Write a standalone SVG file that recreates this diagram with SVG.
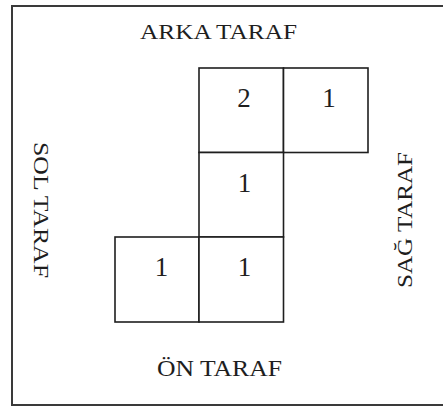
<svg xmlns="http://www.w3.org/2000/svg" width="443" height="408" viewBox="0 0 443 408">
  <style>
    .frame { fill: none; stroke: #3a3a3a; stroke-width: 2; }
    .cell rect { fill: #ffffff; stroke: #1e1e1e; stroke-width: 1.6; }
    .cell text { font-family: "Liberation Serif", "Times New Roman", serif; font-size: 27px; fill: #1e1e1e; text-anchor: middle; }
    .side { font-family: "Liberation Serif", "Times New Roman", serif; fill: #1e1e1e; text-anchor: middle; }
  </style>
  <rect width="443" height="408" fill="#ffffff"/>

  <!-- open frame: top, left and bottom edges -->
  <path class="frame" d="M443 6 H12 V405 H443"/>

  <!-- side labels -->
  <g id="label-back">
    <text class="side" x="218.5" y="38.5" font-size="21" textLength="157" lengthAdjust="spacingAndGlyphs">ARKA TARAF</text>
  </g>
  <g id="label-front">
    <text class="side" x="219.5" y="375.5" font-size="23" textLength="125" lengthAdjust="spacingAndGlyphs">ÖN TARAF</text>
  </g>
  <g id="label-left">
    <text class="side" transform="translate(34 210) rotate(90)" font-size="22" textLength="136" lengthAdjust="spacingAndGlyphs">SOL TARAF</text>
  </g>
  <g id="label-right">
    <text class="side" transform="translate(412 220) rotate(-90)" font-size="22" textLength="136" lengthAdjust="spacingAndGlyphs">SAĞ TARAF</text>
  </g>

  <!-- cells of the plan -->
  <g id="cell-r1c2" class="cell">
    <rect x="199" y="68" width="84.5" height="84.5"/>
    <text x="244" y="106.5">2</text>
  </g>
  <g id="cell-r1c3" class="cell">
    <rect x="283.5" y="68" width="84.5" height="84.5"/>
    <text x="329" y="106.5">1</text>
  </g>
  <g id="cell-r2c2" class="cell">
    <rect x="199" y="152.5" width="84.5" height="84.5"/>
    <text x="244.5" y="191.5">1</text>
  </g>
  <g id="cell-r3c1" class="cell">
    <rect x="115" y="237" width="84" height="85"/>
    <text x="161.5" y="275.5">1</text>
  </g>
  <g id="cell-r3c2" class="cell">
    <rect x="199" y="237" width="84.5" height="85"/>
    <text x="244.5" y="275.5">1</text>
  </g>

  <g id="connectors"/>
</svg>
